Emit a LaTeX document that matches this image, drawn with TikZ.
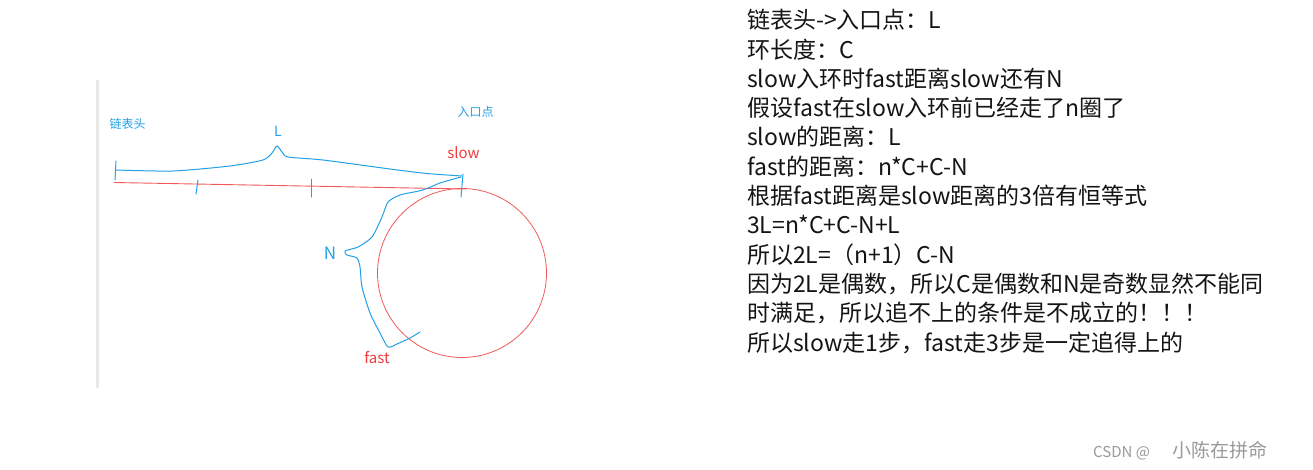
\documentclass[tikz,border=0pt]{standalone}
\usepackage{fontspec}
\newfontfamily\cjk{Noto Sans CJK SC}
\usepackage{tikz}
\usetikzlibrary{positioning}
\definecolor{Bcol}{RGB}{35,160,230}
\definecolor{Rcol}{RGB}{238,60,60}
\definecolor{Gcol}{RGB}{232,232,232}
\definecolor{Tcol}{RGB}{20,20,20}
\tikzstyle{pen}=[line width=1pt, line join=round, line cap=round]
\tikzstyle{bluepen}=[pen, draw=Bcol]
\tikzstyle{redpen}=[pen, draw=Rcol!85]
\tikzstyle{tag}=[inner sep=0pt, font=\cjk\fontsize{12}{14}\selectfont]
\tikzstyle{bluetag}=[tag, text=Bcol]
\tikzstyle{redtag}=[tag, text=Rcol]
\tikzstyle{note}=[inner sep=0pt, text=Tcol, text height=20pt, text depth=5pt, font=\cjk\fontsize{23}{28}\selectfont]

\begin{document}
\begin{tikzpicture}[x=1pt, y=-1pt]
	\useasboundingbox (0,0) rectangle (1313,469);
	% canvas edge
	\draw[Gcol, line width=3pt] (97,80) -- (97,388);
	% list and ring
	\coordinate (head) at (114,182.5);
	\coordinate (entry) at (466,189);
	\node (ring) at (462,273) [circle, redpen, line width=0.8pt, minimum size=169pt] {};
	\draw[redpen, line width=0.9pt] (head) -- (entry);
	\draw[bluepen] (198,180) -- (196,194);
	\draw[bluepen] (311,179) -- (311,197);
	% brace L
	\draw[bluepen] (116,161) -- (115,180);
	\draw[bluepen] (463,174) -- (461,197);
	\draw[bluepen] plot[smooth, tension=0.4] coordinates {(116,170) (173,171) (230,166) (263,160) (272,153) (277,146) (282,152) (288,157) (323,160) (390,169) (427,173.5) (462,176)};
	% brace N
	\draw[bluepen] plot[smooth, tension=0.4] coordinates {(461,177) (440,183) (423,190) (400,195) (388,202) (382,217) (372,237) (358,247) (345,251) (347,255) (357,258) (360,267) (362,287) (370,313) (380,333) (388,347) (397,344) (410,338) (420,332)};
	% labels
	\node (headtxt) at (127.5,123.5) [bluetag] {链表头};
	\node (entrytxt) at (475.5,112) [bluetag] {入口点};
	\node (ltxt) at (278,131) [bluetag, font=\cjk\fontsize{14}{16}\selectfont] {L};
	\node (slowtxt) at (463.5,153) [redtag, font=\cjk\fontsize{15}{17}\selectfont] {slow};
	\node (ntxt) at (330,253) [bluetag, font=\cjk\fontsize{17}{19}\selectfont] {N};
	\node (fasttxt) at (377,357.5) [redtag, font=\cjk\fontsize{15}{17}\selectfont] {fast};
	% notes
	\node (l0) at (747,8.5) [note, anchor=north west] {链表头->入口点：L};
	\node (l1) [below = 3.9pt of l0.south west, anchor=north west, note] {环长度：C};
	\node (l2) [below = 3.9pt of l1.south west, anchor=north west, note] {slow入环时fast距离slow还有N};
	\node (l3) [below = 3.9pt of l2.south west, anchor=north west, note] {假设fast在slow入环前已经走了n圈了};
	\node (l4) [below = 3.9pt of l3.south west, anchor=north west, note] {slow的距离：L};
	\node (l5) [below = 3.9pt of l4.south west, anchor=north west, note] {fast的距离：n*C+C-N};
	\node (l6) [below = 3.9pt of l5.south west, anchor=north west, note] {根据fast距离是slow距离的3倍有恒等式};
	\node (l7) [below = 3.9pt of l6.south west, anchor=north west, note] {3L=n*C+C-N+L};
	\node (l8) [below = 3.9pt of l7.south west, anchor=north west, note] {所以2L=（n+1）C-N};
	\node (l9) [below = 3.9pt of l8.south west, anchor=north west, note] {因为2L是偶数，所以C是偶数和N是奇数显然不能同};
	\node (l10) [below = 3.9pt of l9.south west, anchor=north west, note] {时满足，所以追不上的条件是不成立的！！！};
	\node (l11) [below = 3.9pt of l10.south west, anchor=north west, note] {所以slow走1步，fast走3步是一定追得上的};
	% watermark
	\node (mark) at (1093,451) [anchor=west, inner sep=0pt, text=black!40, font=\cjk\fontsize{15}{17}\selectfont] {CSDN @\hspace{22pt}{\fontsize{19}{21}\selectfont 小陈在拼命}};
\end{tikzpicture}
\end{document}
